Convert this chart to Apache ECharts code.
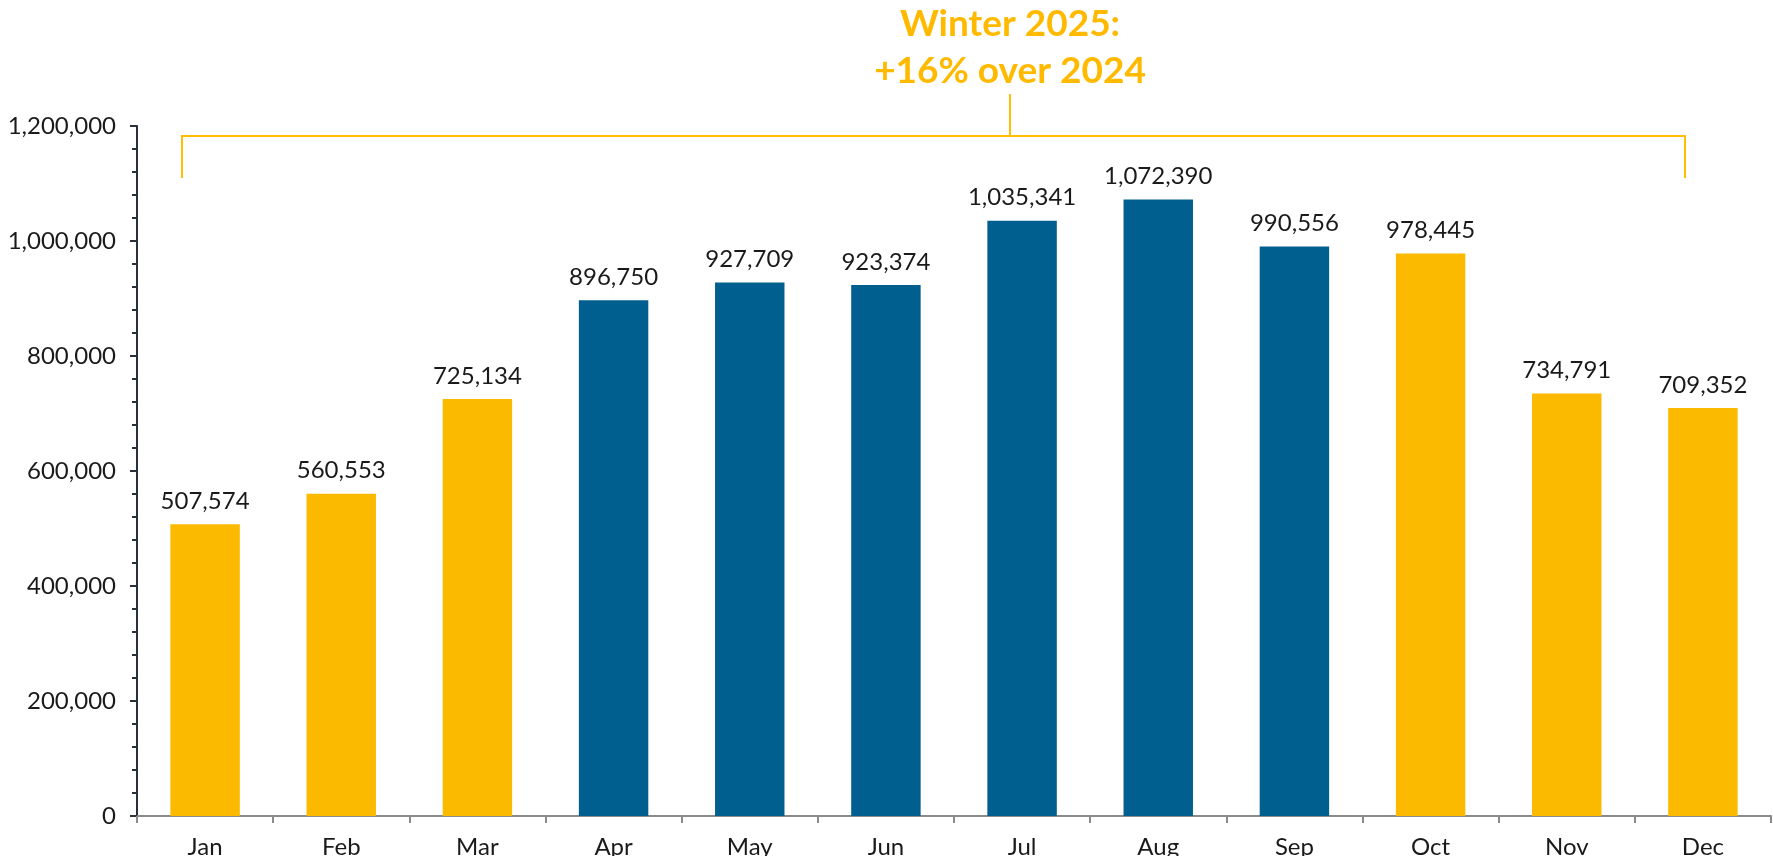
<!DOCTYPE html>
<html>
<head>
<meta charset="utf-8">
<script src="https://cdn.jsdelivr.net/npm/echarts@6/dist/echarts.min.js"></script>
<style>
  html, body { margin: 0; padding: 0; background: #fff; }
  #chart { width: 1773px; height: 856px; }
</style>
</head>
<body>
<div id="chart"></div>
<script>
// data
var months = ['Jan', 'Feb', 'Mar', 'Apr', 'May', 'Jun', 'Jul', 'Aug', 'Sep', 'Oct', 'Nov', 'Dec'];
var visitors = [507574, 560553, 725134, 896750, 927709, 923374, 1035341, 1072390, 990556, 978445, 734791, 709352];
var isWinter = [true, true, true, false, false, false, false, false, false, true, true, true];
var titleLines = ['Winter 2025:', '+16% over 2024'];

var YELLOW = '#FBB900';
var BLUE = '#005F8F';
var FONT = 'Lato, "Open Sans", sans-serif';

var myChart = echarts.init(document.getElementById('chart'));

var barData = visitors.map(function (v, i) {
    return { value: v, itemStyle: { color: isWinter[i] ? YELLOW : BLUE } };
});

var option = {
    animation: false,
    grid: { left: 137, right: 2, top: 126, bottom: 40, outerBoundsMode: 'none', containLabel: false },
    xAxis: {
        type: 'category',
        data: months,
        axisLine: { lineStyle: { color: '#8a8a8a', width: 2 } },
        axisTick: { show: true, length: 7, lineStyle: { color: '#8a8a8a', width: 2 } },
        axisLabel: { color: '#1a1a1a', fontSize: 24, fontFamily: FONT, margin: 19 }
    },
    yAxis: {
        type: 'value',
        min: 0,
        max: 1200000,
        interval: 200000,
        axisLine: { show: true, lineStyle: { color: '#2b2f3a', width: 2 } },
        axisTick: { show: true, length: 7, lineStyle: { color: '#2b2f3a', width: 2 } },
        minorTick: { show: true, splitNumber: 5, length: 5, lineStyle: { color: '#2b2f3a', width: 2 } },
        splitLine: { show: false },
        axisLabel: {
            color: '#1a1a1a', fontSize: 24, fontFamily: FONT, margin: 21,
            formatter: function (v) { return v.toLocaleString('en-US'); }
        }
    },
    series: [{
        type: 'bar',
        data: barData,
        barWidth: '51%',
        label: {
            show: true,
            position: 'top',
            distance: 11,
            color: '#1a1a1a',
            fontSize: 24,
            fontFamily: FONT,
            formatter: function (p) { return p.value.toLocaleString('en-US'); }
        }
    }],
    graphic: [
        // bracket over the year
        {
            type: 'polyline',
            shape: { points: [[182, 178], [182, 136], [1685, 136], [1685, 178]] },
            style: { stroke: '#FFBF00', lineWidth: 2, fill: null }
        },
        {
            type: 'line',
            shape: { x1: 1010, y1: 94, x2: 1010, y2: 136 },
            style: { stroke: '#FFBF00', lineWidth: 2 }
        },
        {
            type: 'text',
            x: 1010,
            y: 1,
            style: {
                text: titleLines.join('\n'),
                textAlign: 'center',
                textVerticalAlign: 'top',
                fill: '#FFBA00',
                font: 'bold 37px ' + FONT,
                lineHeight: 47
            }
        }
    ]
};
myChart.setOption(option);
</script>
</body>
</html>
